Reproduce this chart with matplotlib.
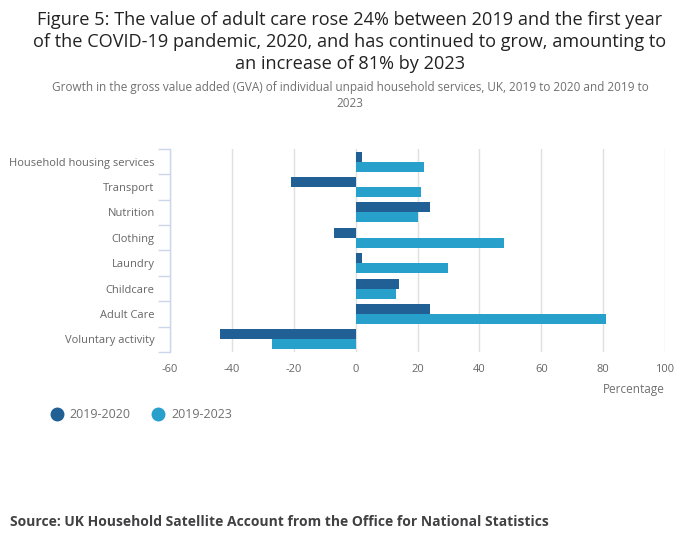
import matplotlib
matplotlib.use("Agg")
import matplotlib.pyplot as plt
import numpy as np
from matplotlib.lines import Line2D

categories = ["Household housing services", "Transport", "Nutrition", "Clothing",
              "Laundry", "Childcare", "Adult Care", "Voluntary activity"]
series_names = ["2019-2020", "2019-2023"]
values_2020 = [2, -21, 24, -7, 2, 14, 24, -44]
values_2023 = [22, 21, 20, 48, 30, 13, 81, -27]
x_ticks = [-60, -40, -20, 0, 20, 40, 60, 80, 100]

title = ("Figure 5: The value of adult care rose 24% between 2019 and the first year\n"
         "of the COVID-19 pandemic, 2020, and has continued to grow, amounting to\n"
         "an increase of 81% by 2023")
subtitle = ("Growth in the gross value added (GVA) of individual unpaid household services, UK, 2019 to 2020 and 2019 to\n"
            "2023")
source = "Source: UK Household Satellite Account from the Office for National Statistics"

plt.rcParams['font.family'] = ['Open Sans', 'DejaVu Sans']
dark = "#206095"
light = "#27a0cc"
grey = "#707070"

fig = plt.figure(figsize=(7.0, 5.49), dpi=100)
ax = fig.add_axes([170/700, 1-352/549, (665-170)/700, (352-149)/549])

y = np.arange(len(categories))
h = 0.394
ax.barh(y - h/2, values_2020, height=h, color=dark, label=series_names[0], zorder=3)
ax.barh(y + h/2, values_2023, height=h, color=light, label=series_names[1], zorder=3)

ax.set_ylim(len(categories) - 0.5, -0.5)
ax.set_xlim(-60, 100)
ax.set_xticks(x_ticks)
ax.set_xticklabels([str(v) for v in x_ticks])
ax.set_yticks(y)
ax.set_yticklabels(categories)
ax.set_yticks(np.arange(-0.5, len(categories), 1), minor=True)

ax.grid(axis='x', color='#e0e0e0', linewidth=1, zorder=0)
for s in ['top', 'right', 'bottom']:
    ax.spines[s].set_visible(False)
ax.spines['left'].set_color('#ccd6eb')
ax.spines['left'].set_linewidth(1)

ax.tick_params(axis='y', which='major', length=0, pad=11, labelsize=8, labelcolor='#666666')
ax.tick_params(axis='y', which='minor', length=9, color='#ccd6eb', width=1)
ax.tick_params(axis='x', length=0, pad=9, labelsize=8, labelcolor='#666666')

fig.text(665/700, 1-389/549, "Percentage", ha='right', va='center', fontsize=8.5, color=grey)

fig.text(0.5, 1-11/549, title, ha='center', va='top', fontsize=13.1, color='#222222',
         linespacing=1.3)
fig.text(0.5, 1-81/549, subtitle, ha='center', va='top', fontsize=8.5, color=grey,
         linespacing=1.3)

handles = [Line2D([0], [0], marker='o', linestyle='none', markersize=9, markerfacecolor=dark, markeredgecolor=dark),
           Line2D([0], [0], marker='o', linestyle='none', markersize=9, markerfacecolor=light, markeredgecolor=light)]
leg = fig.legend(handles, series_names, loc='center left', bbox_to_anchor=(33/700, 1-415/549),
                 ncol=2, frameon=False, fontsize=9, handletextpad=0.05, columnspacing=1.2,
                 labelcolor=grey)

fig.text(10/700, 1-522/549, source, ha='left', va='center', fontsize=10, fontweight='bold', color='#414042')

fig.savefig("out.png", dpi=100)
